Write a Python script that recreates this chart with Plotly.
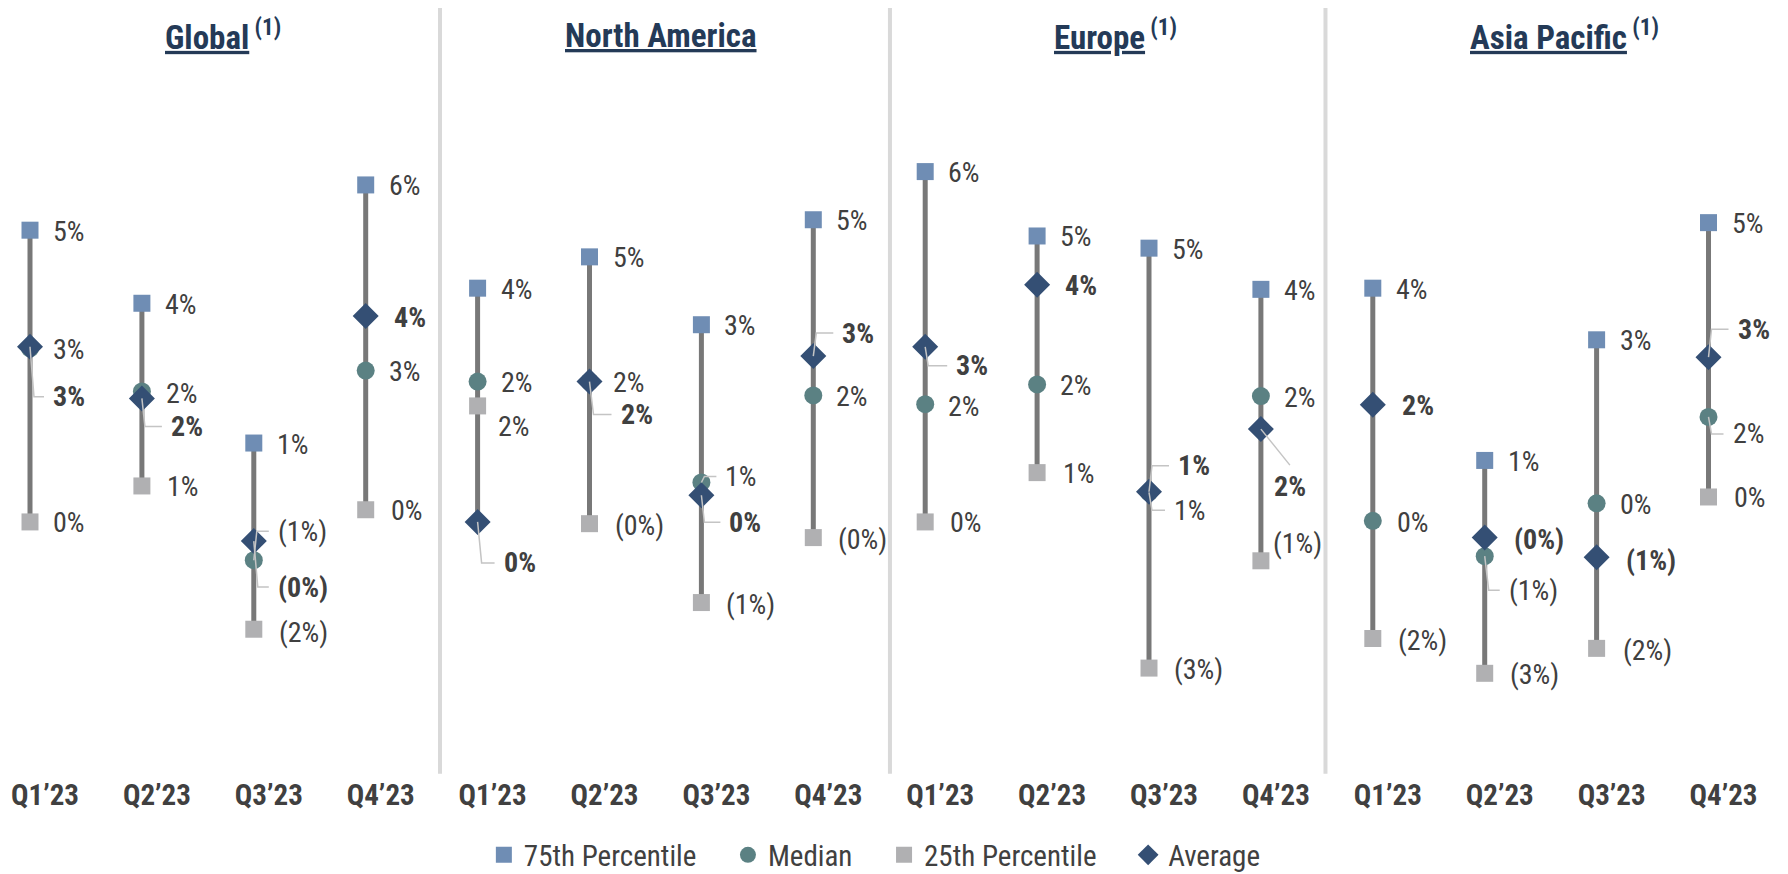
import plotly.graph_objects as go

# ---------------- data ----------------
quarters = ["Q1’23", "Q2’23", "Q3’23", "Q4’23"]
regions = ["Global", "North America", "Europe", "Asia Pacific"]
region_notes = ["(1)", "", "(1)", "(1)"]
series_names = ["75th Percentile", "Median", "25th Percentile", "Average"]

# values in %, 16 points = 4 regions x 4 quarters
p75 = [5.04, 3.78, 1.37, 5.82, 4.04, 4.58, 3.41, 5.22, 6.05, 4.94, 4.73, 4.02, 4.04, 1.07, 3.15, 5.17]
median = [3.00, 2.26, -0.65, 2.62, 2.43, 2.43, 0.69, 2.19, 2.04, 2.38, 0.52, 2.18, 0.03, -0.58, 0.33, 1.82]
p25 = [0.01, 0.63, -1.84, 0.22, 2.01, -0.02, -1.38, -0.26, 0.01, 0.86, -2.51, -0.66, -2.00, -2.60, -2.17, 0.44]
average = [3.03, 2.14, -0.32, 3.56, 0.01, 2.43, 0.47, 2.87, 3.03, 4.10, 0.53, 1.61, 2.03, -0.26, -0.60, 2.85]

# ---------------- label placement (pixels: dx right of marker, dy down) ----------------
p75_dx = [23] * 16
p75_dy = [1] * 16
med_dx = [23, 24, 24, 23, 23, 23, 24, 23, 23, 23, 25, 23, 24, 24, 23, 24]
med_dy = [1, 2, -29, 1, 1, 1, -6, 1, 2, 1, 18, 1, 2, 34, 1, 17]
p25_dx = [23, 25, 25, 25, 20, 25, 25, 25, 25, 26, 25, 12, 25, 25, 26, 25]
p25_dy = [1, 1, 3, 1, 21, 2, 2, 2, 1, 1, 1, -17, 2, 1, 2, 1]
avg_dx = [23, 29, 24, 28, 26, 31, 28, 29, 31, 28, 29, 13, 29, 29, 29, 29]
avg_dy = [50, 28, 46, 1, 41, 33, 27, -23, 19, 1, -26, 57, 1, 2, 3, -28]

# ---------------- geometry ----------------
# the page body adds an 8px offset, so the figure is 8px smaller than the window
W, H = 1780, 866
M_T, M_B = 2, 104
PLOT_H = H - M_T - M_B
X_RANGE = [-0.1966, 15.7104]
Y_RANGE = [-4.267, 8.836]
PX_X = W / (X_RANGE[1] - X_RANGE[0])
PX_Y = PLOT_H / (Y_RANGE[1] - Y_RANGE[0])
separators = [3.664, 7.685, 11.577]
title_x = [1.725, 5.639, 9.705, 13.713]

C_P75 = "#6f8db4"
C_MED = "#5b8183"
C_P25 = "#b0b0b2"
C_AVG = "#344f74"
C_STEM = "#787878"
C_TXT = "#404040"
C_TITLE = "#243a57"
C_LEAD = "#c4c4c4"
FONT = "Liberation Sans Narrow, Arial Narrow, Roboto Condensed, Liberation Sans, Arial, sans-serif"
NB = "\u00a0"

xs = list(range(16))


def fmt(v):
    r = int(abs(v) + 0.5)
    return f"({r}%)" if v < 0 else f"{r}%"


fig = go.Figure()

# stems
stem_x, stem_y = [], []
for k in xs:
    vals = [p75[k], median[k], p25[k], average[k]]
    stem_x += [k, k, None]
    stem_y += [min(vals), max(vals), None]
fig.add_trace(go.Scatter(x=stem_x, y=stem_y, mode="lines", line=dict(color=C_STEM, width=5),
                         showlegend=False, hoverinfo="skip"))

pad = NB * 4
fig.add_trace(go.Scatter(x=xs, y=p75, mode="markers", name=series_names[0] + pad,
                         marker=dict(symbol="square", size=17, color=C_P75)))
fig.add_trace(go.Scatter(x=xs, y=median, mode="markers", name=series_names[1] + pad,
                         marker=dict(symbol="circle", size=18, color=C_MED)))
fig.add_trace(go.Scatter(x=xs, y=p25, mode="markers", name=series_names[2] + pad,
                         marker=dict(symbol="square", size=17, color=C_P25)))
fig.add_trace(go.Scatter(x=xs, y=average, mode="markers", name=series_names[3],
                         marker=dict(symbol="diamond", size=20, color=C_AVG)))

# leader lines
lx, ly = [], []
for vals, dxs, dys in [(median, med_dx, med_dy), (average, avg_dx, avg_dy)]:
    for k in xs:
        dy = dys[k]
        if abs(dy) < 5:
            continue
        v = vals[k]
        if dxs[k] < 20:  # straight diagonal leader
            lx += [k, k + 29 / PX_X, None]
            ly += [v, v - (dy - 21) / PX_Y, None]
            continue
        a = 3 if abs(dy) < 30 else 4
        b = dxs[k] - 9
        lx += [k, k + a / PX_X, k + b / PX_X, None]
        ly += [v, v - dy / PX_Y, v - dy / PX_Y, None]
fig.add_trace(go.Scatter(x=lx, y=ly, mode="lines", line=dict(color=C_LEAD, width=1.5),
                         showlegend=False, hoverinfo="skip"))

# value labels
annotations = []
for vals, dxs, dys, bold in [(p75, p75_dx, p75_dy, False), (median, med_dx, med_dy, False),
                             (p25, p25_dx, p25_dy, False), (average, avg_dx, avg_dy, True)]:
    for k in xs:
        t = fmt(vals[k])
        annotations.append(dict(
            x=k, y=vals[k], xref="x", yref="y", text=f"<b>{t}</b>" if bold else t,
            showarrow=False, xanchor="left", yanchor="middle",
            xshift=dxs[k] - 2, yshift=-dys[k],
            font=dict(family=FONT, size=28, color=C_TXT)))

# panel titles
for i, r in enumerate(regions):
    note = region_notes[i]
    txt = f"<b><u>{r}</u></b>" + (f"<b><sup> {note}</sup></b>" if note else "")
    annotations.append(dict(
        x=title_x[i], y=1 - (28 - M_T) / PLOT_H, xref="x", yref="paper", text=txt,
        showarrow=False, xanchor="center", yanchor="middle",
        font=dict(family=FONT, size=33, color=C_TITLE)))

shapes = [dict(type="line", xref="x", yref="paper", x0=s, x1=s, y0=-0.005, y1=1.005,
               line=dict(color="#d9d9d9", width=4), layer="below") for s in separators]

fig.update_layout(
    width=W, height=H,
    margin=dict(l=0, r=0, t=M_T, b=M_B, autoexpand=False),
    paper_bgcolor="white", plot_bgcolor="white",
    showlegend=True,
    legend=dict(orientation="h", x=0.487, xanchor="center", y=-0.1118, yanchor="middle",
                font=dict(family=FONT, size=29, color=C_TXT), itemclick=False,
                bgcolor="rgba(0,0,0,0)"),
    annotations=annotations,
    shapes=shapes,
    xaxis=dict(range=X_RANGE, tickvals=xs, ticktext=quarters * 4, showgrid=False, zeroline=False,
               showline=False, ticks="", automargin=False, ticklabelshift=15, ticklabelstandoff=5,
               tickfont=dict(family=FONT, size=29, color=C_TXT, weight="bold"), fixedrange=True),
    yaxis=dict(range=Y_RANGE, showgrid=False, zeroline=False, showline=False, showticklabels=False,
               ticks="", automargin=False, fixedrange=True),
)

fig.write_html("out.html")
